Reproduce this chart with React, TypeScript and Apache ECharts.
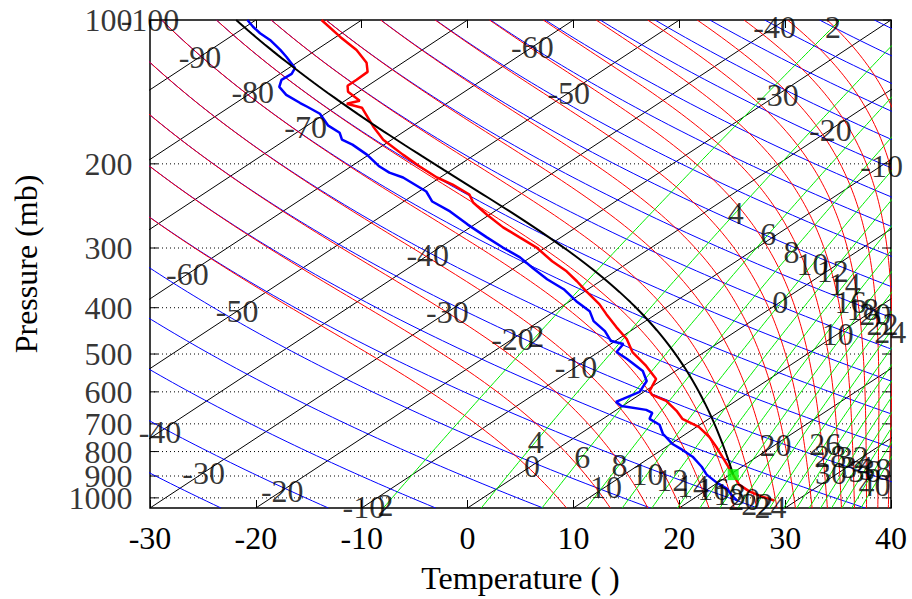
import React, { useEffect, useRef } from "react";
import * as echarts from "echarts";

const FONT = "'Liberation Serif', 'Times New Roman', serif";

// Diagram frame
const P_TOP = 100;
const P_BOTTOM = 1050;
const T_MIN = -30;
const T_MAX = 40;
const SKEW = 70; // isotherm shift (deg C) from bottom to top of the frame

const PRESSURE_TICKS = [100, 200, 300, 400, 500, 600, 700, 800, 900, 1000];

// Background line families
const ISOTHERMS = [-100, -90, -80, -70, -60, -50, -40, -30, -20, -10, 0, 10, 20, 30];
const DRY_THETA_K = [246.4, 256.4, 266.4, 276.4, 286.4, 296.4, 306.4, 316.4, 326.4, 336.4, 346.4, 356.4, 366.4, 376.4, 386.4, 396.4, 406.4, 416.4, 426.4, 436.4, 446.4, 456.4, 466.4];
const MOIST_THETAE_K = [296.4, 306.4, 316.4, 326.4, 336.4, 346.4, 356.4, 366.4, 376.4, 386.4, 396.4, 406.4, 416.4, 426.4, 436.4, 446.4, 456.4, 466.4];
const MIXING_RATIOS = [2, 4, 6, 8, 10, 12, 14, 16, 18, 20, 22, 24, 26, 28, 30, 32, 34, 36, 38, 40];

// Sounding: temperature
const TEMP_P = [100, 108.5, 115.5, 122.9, 128.4, 133.4, 137.3, 141.3, 147.6, 149.7, 152.6, 167.2, 178.0, 191.3, 202.6, 213.6, 221.0, 231.8, 240.9, 255.2, 271.6, 285.0, 299.0, 319.8, 335.6, 352.1, 369.4, 393.1, 412.6, 439.1, 465.2, 495.2, 529.7, 563.8, 597.2, 608.8, 626.6, 657.4, 683.3, 710.2, 744.9, 781.6, 820.1, 868.7, 894.1, 938.2, 970.3, 993.8, 1013];
const TEMP_T = [-83.8, -79.6, -76.2, -73.4, -72.0, -71.9, -71.9, -71.0, -68.6, -69.4, -67.4, -63.6, -60.8, -56.8, -53.5, -50.3, -47.8, -44.8, -43.3, -40.3, -36.9, -33.9, -30.9, -27.4, -24.6, -22.2, -19.9, -16.8, -14.7, -11.9, -9.2, -6.8, -3.5, -0.7, 0.4, 1.2, 3.4, 5.8, 7.5, 10.2, 12.6, 14.7, 16.7, 19.1, 20.3, 22.3, 24.3, 26.2, 27.9];

// Sounding: dew point
const DEW_P = [100, 103.3, 106.6, 110.1, 115.5, 119.5, 126.1, 129.6, 133.4, 138.0, 143.4, 149.2, 151.9, 157.1, 166.4, 172.2, 178.0, 182.3, 191.3, 202.6, 208.6, 213.6, 228.5, 239.8, 251.5, 267.7, 285.0, 299.0, 313.8, 330.8, 348.7, 365.9, 387.6, 406.7, 426.7, 447.7, 469.7, 476.5, 495.2, 512.2, 542.6, 569.3, 600.1, 629.7, 642.0, 654.4, 663.8, 683.3, 703.2, 734.2, 770.3, 792.8, 820.1, 860.7, 894.1, 929.2, 956.3, 989.0, 1013];
const DEW_T = [-90.8, -89.3, -87.7, -85.8, -83.4, -81.8, -79.4, -78.9, -79.0, -78.2, -76.4, -73.9, -72.7, -70.5, -68.0, -65.9, -64.7, -63.0, -60.2, -57.3, -55.5, -53.5, -49.3, -47.3, -44.2, -40.7, -37.0, -34.1, -31.0, -28.2, -25.3, -22.3, -19.4, -16.7, -14.9, -12.4, -10.4, -8.8, -8.3, -6.3, -3.1, -1.3, -0.4, -1.2, -0.1, 2.8, 3.8, 4.4, 6.2, 7.8, 10.1, 11.9, 13.9, 16.2, 17.8, 19.9, 21.7, 23.2, 24.4];

// Lifting condensation level (parcel rises moist-adiabatically from here)
const LCL_P = 894;
const LCL_T = 20.3;

// Labels placed on lines: [value, pressure]
const ISOTHERM_LABELS: [number, number][] = [
  [-100, 100], [-90, 119.4], [-80, 141.3], [-70, 167.2],
  [-60, 113.9], [-50, 142.0],
  [-40, 103.4], [-30, 143.4], [-20, 169.6], [-10, 201.7],
  [-60, 340.5], [-50, 406.7],
  [-40, 310.8], [-30, 408.7], [-20, 465.0], [-10, 532.0],
  [0, 389.4], [10, 454.0],
  [-40, 727.0], [-30, 885.6], [-20, 965.6], [-10, 1043.0],
  [0, 856.0], [10, 947.0], [20, 774.0],
];
const MIXING_LABELS: [number, number][] = [
  [2, 103.4], [2, 458.5], [2, 1037],
  [4, 252.9], [6, 280.9], [8, 306.3], [10, 324.5], [12, 335.6], [14, 357.1], [16, 389.4], [18, 402.8], [20, 412.6], [22, 432.9], [24, 449.8],
  [4, 762.9], [6, 820.1], [8, 852.4], [10, 889.9], [12, 915.9], [14, 942.6], [16, 956.3], [18, 979.5], [20, 1003.5], [22, 1028], [24, 1043],
  [26, 771.4], [28, 816.3], [30, 887], [32, 820], [34, 860], [36, 877], [38, 869], [40, 940],
];

function buildOption() {
  const logSpan = Math.log10(P_BOTTOM / P_TOP);
  const sx = (t: number, p: number) => t + (SKEW * Math.log10(P_BOTTOM / p)) / logSpan;
  const ly = (p: number) => Math.log10(p);
  const N = 140;
  const levels = Array.from({ length: N + 1 }, (_, i) => P_TOP * Math.pow(P_BOTTOM / P_TOP, i / N));

  const es = (tc: number) => 6.112 * Math.exp((17.67 * tc) / (tc + 243.5));
  const thetaE = (tk: number, p: number) => {
    const e = es(tk - 273.15);
    if (e >= p * 0.95) return Infinity;
    const w = (0.622 * e) / (p - e);
    return tk * Math.pow(1000 / p, 0.2857) * Math.exp((2.5e6 * w) / (1005 * tk));
  };
  const moistT = (te: number, p: number) => {
    let lo = 120;
    let hi = 345;
    for (let k = 0; k < 60; k++) {
      const m = (lo + hi) / 2;
      if (thetaE(m, p) > te) hi = m;
      else lo = m;
    }
    return (lo + hi) / 2 - 273.15;
  };
  const mixT = (w: number, p: number) => {
    const e = (w * p) / (622 + w);
    const l = Math.log(e / 6.112);
    return (243.5 * l) / (17.67 - l);
  };
  const dryT = (th: number, p: number) => th * Math.pow(p / 1000, 0.2857) - 273.15;

  const series: any[] = [];
  const addLine = (data: number[][], color: string, width: number, z: number, type: any = "solid") =>
    series.push({
      type: "line",
      data,
      symbol: "none",
      showSymbol: false,
      silent: true,
      clip: true,
      z,
      lineStyle: { color, width, type },
      animation: false,
    });

  // dotted pressure grid
  PRESSURE_TICKS.slice(1).forEach((p) => addLine([[T_MIN, ly(p)], [T_MAX, ly(p)]], "#000", 1, 1, [1, 3]));
  // pressure ticks (left and right, inside)
  PRESSURE_TICKS.forEach((p) => {
    addLine([[T_MIN, ly(p)], [T_MIN + 0.75, ly(p)]], "#000", 1, 1);
    addLine([[T_MAX - 0.75, ly(p)], [T_MAX, ly(p)]], "#000", 1, 1);
  });

  // isotherms
  ISOTHERMS.forEach((t) => addLine([[sx(t, P_BOTTOM), ly(P_BOTTOM)], [sx(t, P_TOP), ly(P_TOP)]], "#000", 1, 2));
  // dry adiabats
  DRY_THETA_K.forEach((th) => addLine(levels.map((p) => [sx(dryT(th, p), p), ly(p)]), "#0000ff", 1, 2));
  // moist adiabats
  MOIST_THETAE_K.forEach((te) => addLine(levels.map((p) => [sx(moistT(te, p), p), ly(p)]), "#ff0000", 1, 3));
  // mixing ratio lines
  MIXING_RATIOS.forEach((w) => addLine(levels.map((p) => [sx(mixT(w, p), p), ly(p)]), "#00ee00", 1, 3));

  // sounding
  addLine(DEW_P.map((p, i) => [sx(DEW_T[i], p), ly(p)]), "#0000ff", 2.5, 5);
  addLine(TEMP_P.map((p, i) => [sx(TEMP_T[i], p), ly(p)]), "#ff0000", 2.5, 6);

  // parcel path: moist adiabat through the LCL
  const parcelTe = thetaE(LCL_T + 273.15, LCL_P);
  const parcelLevels = levels.filter((p) => p < LCL_P).concat([LCL_P]);
  addLine(parcelLevels.map((p) => [sx(p === LCL_P ? LCL_T : moistT(parcelTe, p), p), ly(p)]), "#000", 2, 7);

  series.push({
    type: "scatter",
    silent: true,
    z: 8,
    symbol: "rect",
    symbolSize: 11,
    itemStyle: { color: "#00ff00" },
    data: [[sx(LCL_T, LCL_P), ly(LCL_P)]],
  });

  const labelStyle = { show: true, fontSize: 32, fontFamily: FONT, color: "#000", formatter: "{b}" };
  series.push({
    type: "scatter",
    silent: true,
    clip: false,
    z: 9,
    symbolSize: 1,
    itemStyle: { color: "rgba(0,0,0,0)" },
    data: ISOTHERM_LABELS.map(([t, p]) => ({ value: [sx(t, p), ly(p)], name: String(t) })),
    label: { ...labelStyle, position: "inside" },
  });
  series.push({
    type: "scatter",
    silent: true,
    clip: false,
    z: 9,
    symbolSize: 1,
    itemStyle: { color: "rgba(0,0,0,0)" },
    data: MIXING_LABELS.map(([w, p]) => ({ value: [sx(mixT(w, p), p), ly(p)], name: String(w) })),
    label: { ...labelStyle, position: "inside" },
  });
  // pressure tick labels
  series.push({
    type: "scatter",
    silent: true,
    clip: false,
    z: 9,
    symbolSize: 1,
    itemStyle: { color: "rgba(0,0,0,0)" },
    data: PRESSURE_TICKS.map((p) => ({ value: [T_MIN, ly(p)], name: String(p) })),
    label: { ...labelStyle, position: "left", distance: 17 },
  });

  const textStyle = { fontSize: 32, fontFamily: FONT, color: "#000" };

  return {
    animation: false,
    backgroundColor: "#fff",
    grid: { left: 150, right: 21, top: 20, bottom: 89, show: true, borderColor: "#000", borderWidth: 1.5, backgroundColor: "transparent" },
    xAxis: [
      {
        type: "value",
        min: T_MIN,
        max: T_MAX,
        interval: 10,
        position: "bottom",
        axisLine: { show: false },
        axisTick: { show: true, inside: true, length: 8, lineStyle: { color: "#000", width: 1 } },
        axisLabel: { ...textStyle, margin: 14 },
        splitLine: { show: false },
        name: "Temperature ( )",
        nameLocation: "middle",
        nameGap: 54,
        nameTextStyle: textStyle,
      },
      {
        type: "value",
        min: T_MIN,
        max: T_MAX,
        interval: 10,
        position: "top",
        axisLine: { show: false },
        axisTick: { show: true, inside: true, length: 8, lineStyle: { color: "#000", width: 1 } },
        axisLabel: { show: false },
        splitLine: { show: false },
      },
    ],
    yAxis: {
      type: "value",
      min: Math.log10(P_TOP),
      max: Math.log10(P_BOTTOM),
      inverse: true,
      axisLine: { show: false },
      axisTick: { show: false },
      axisLabel: { show: false },
      splitLine: { show: false },
      name: "Pressure (mb)",
      nameLocation: "middle",
      nameGap: 108,
      nameRotate: 90,
      nameTextStyle: textStyle,
    },
    series,
  };
}

export default function App() {
  const ref = useRef<HTMLDivElement>(null);
  useEffect(() => {
    if (!ref.current) return;
    const chart = echarts.init(ref.current, null, { renderer: "svg" });
    chart.setOption(buildOption() as any);
    return () => chart.dispose();
  }, []);
  return (
    <div
      ref={ref}
      style={{ position: "fixed", left: 0, top: 0, width: 912, height: 599, background: "#fff" }}
    />
  );
}
